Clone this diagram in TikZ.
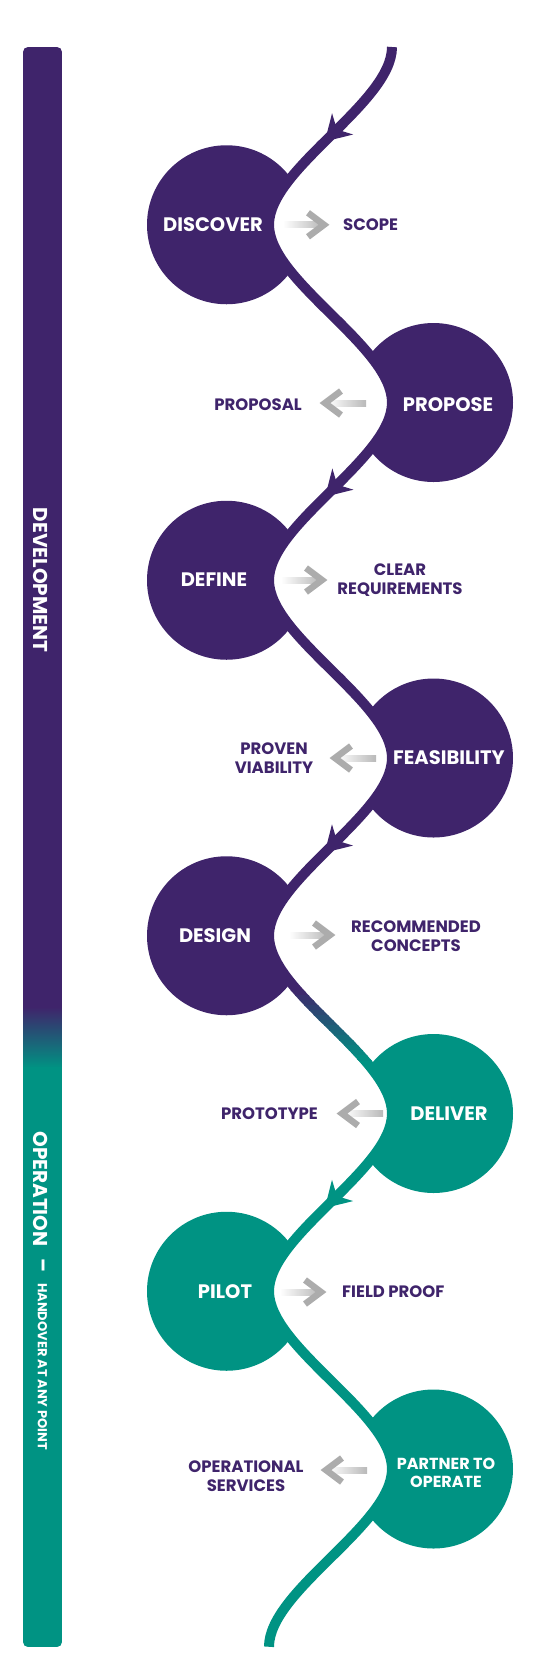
\documentclass[tikz,border=0pt]{standalone}
\usepackage{fontspec}
\setmainfont{Poppins}
\usetikzlibrary{decorations.markings}

\definecolor{devpurple}{RGB}{63,36,107}
\definecolor{opteal}{RGB}{0,147,131}
\definecolor{shaftgray}{RGB}{185,185,185}
\definecolor{chevgray}{RGB}{172,172,172}

% the winding path through all steps
\newcommand\snakepath{(w0) \foreach \i in {1,...,9}{ .. controls +(0,56) and +(0,-56) .. (w\i)}}

\tikzset{
  snake/.style={line width=10, line cap=butt},
  stepdisc/.style={circle, minimum size=159, inner sep=0pt},
  steplabel/.style={text=white, align=center, inner sep=0pt, font=\bfseries\fontsize{19.5}{22}\selectfont},
  outlabel/.style={text=devpurple, align=center, inner sep=0pt, font=\bfseries\fontsize{16.5}{19.5}\selectfont},
  bartext/.style={text=white, rotate=-90, inner sep=0pt, font=\bfseries\fontsize{20}{24}\selectfont},
  chevron/.style={draw=chevgray, line width=6.5},
  handarrow/.pic={
    \shade[left color=white, right color=shaftgray] (-46,-3) rectangle (-7,3);
    \draw[chevron] (-21,-12) -- (-5,0) -- (-21,12);
  },
}

\begin{document}
\begin{tikzpicture}[x=1pt, y=-1pt]
	\useasboundingbox (0,0) rectangle (551,1674);

	% phase bar
	\begin{scope}
		\clip[rounded corners=5] (23,47) rectangle (62,1647);
		\fill[devpurple] (23,47) rectangle (62,1008);
		\shade[top color=devpurple, bottom color=opteal] (23,1007) rectangle (62,1068);
		\fill[opteal] (23,1067) rectangle (62,1647);
	\end{scope}
	\node[bartext] (dev) at (41,580) {DEVELOPMENT};
	\node[bartext] (oper) at (41,1189) {OPERATION};
	\node[bartext] (dash) at (41,1265) {–};
	\node[bartext, font=\bfseries\fontsize{13}{16}\selectfont] (handover) at (42.5,1366.5) {HANDOVER AT ANY POINT};

	% turning points of the path
	\coordinate (w0) at (392,47);
	\coordinate (w1) at (269,224.75);
	\coordinate (w2) at (392,402.5);
	\coordinate (w3) at (269,580.25);
	\coordinate (w4) at (392,758);
	\coordinate (w5) at (269,935.75);
	\coordinate (w6) at (392,1113.5);
	\coordinate (w7) at (269,1291.25);
	\coordinate (w8) at (392,1469);
	\coordinate (w9) at (269,1646.75);

	% step circles, cut by the path
	\begin{scope}
		\clip (0,0) -- (392,0) -- \snakepath -- (0,1674) -- cycle;
		\node[stepdisc, fill=devpurple] (discC) at (226.5,224.75) {};
		\node[stepdisc, fill=devpurple] (defiC) at (226.5,580.25) {};
		\node[stepdisc, fill=devpurple] (desiC) at (226.5,935.75) {};
		\node[stepdisc, fill=opteal] (piloC) at (226.5,1291.25) {};
	\end{scope}
	\begin{scope}
		\clip (551,0) -- (392,0) -- \snakepath -- (551,1674) -- cycle;
		\node[stepdisc, fill=devpurple] (propC) at (433.5,402.5) {};
		\node[stepdisc, fill=devpurple] (feasC) at (433.5,758) {};
		\node[stepdisc, fill=opteal] (deliC) at (433.5,1113.5) {};
		\node[stepdisc, fill=opteal] (partC) at (433.5,1469) {};
	\end{scope}

	% the path, purple to teal
	\begin{scope}
		\clip (0,0) rectangle (551,991);
		\draw[snake, devpurple] \snakepath;
	\end{scope}
	\begin{scope}
		\clip (0,1059) rectangle (551,1674);
		\draw[snake, opteal] \snakepath;
	\end{scope}
	\foreach \k in {0,...,13}{
		\pgfmathsetmacro\pc{100-100*(\k+0.5)/14}
		\begin{scope}
			\clip (0,990+5*\k) rectangle (551,995.6+5*\k);
			\draw[snake, devpurple!\pc!opteal] \snakepath;
		\end{scope}
	}
	\path[decorate, decoration={markings,
		mark=at position 0.052 with {\fill[devpurple] (-10,-15) -- (15,0) -- (-10,15) -- (-2,0) -- cycle;},
		mark=at position 0.274 with {\fill[devpurple] (-10,-15) -- (15,0) -- (-10,15) -- (-2,0) -- cycle;},
		mark=at position 0.4965 with {\fill[devpurple] (-10,-15) -- (15,0) -- (-10,15) -- (-2,0) -- cycle;},
		mark=at position 0.7187 with {\fill[opteal] (-10,-15) -- (15,0) -- (-10,15) -- (-2,0) -- cycle;}}]
		\snakepath;

	% step names
	\node[steplabel] (disc) at (213,224.75) {DISCOVER};
	\node[steplabel] (prop) at (448,405) {PROPOSE};
	\node[steplabel] (defi) at (214,580) {DEFINE};
	\node[steplabel] (feas) at (449,758) {FEASIBILITY};
	\node[steplabel] (desi) at (215,936) {DESIGN};
	\node[steplabel] (deli) at (449,1113.5) {DELIVER};
	\node[steplabel] (pilo) at (225,1292) {PILOT};
	\node[steplabel, font=\bfseries\fontsize{16}{18}\selectfont] (part) at (446,1473) {PARTNER TO\\OPERATE};

	% outputs
	\coordinate (toScope) at (329,224.75);
	\coordinate (toProposal) at (320,403);
	\coordinate (toClear) at (327,580);
	\coordinate (toViability) at (330,758);
	\coordinate (toConcepts) at (335,935);
	\coordinate (toPrototype) at (337,1113.5);
	\coordinate (toField) at (326,1292);
	\coordinate (toServices) at (321,1470);
	\pic at (toScope) {handarrow};
	\pic[rotate=180] at (toProposal) {handarrow};
	\pic at (toClear) {handarrow};
	\pic[rotate=180] at (toViability) {handarrow};
	\pic at (toConcepts) {handarrow};
	\pic[rotate=180] at (toPrototype) {handarrow};
	\pic at (toField) {handarrow};
	\pic[rotate=180] at (toServices) {handarrow};

	\node[outlabel, anchor=west] (scope) at (343,224.75) {SCOPE};
	\node[outlabel, anchor=east] (proposal) at (302,405) {PROPOSAL};
	\node[outlabel] (clearreq) at (400,580) {CLEAR\\REQUIREMENTS};
	\node[outlabel] (viability) at (274,758) {PROVEN\\VIABILITY};
	\node[outlabel] (concepts) at (416,936) {RECOMMENDED\\CONCEPTS};
	\node[outlabel, anchor=east] (prototype) at (318,1113.5) {PROTOTYPE};
	\node[outlabel, anchor=west] (fieldproof) at (342,1292) {FIELD PROOF};
	\node[outlabel] (services) at (246,1476) {OPERATIONAL\\SERVICES};
\end{tikzpicture}
\end{document}
